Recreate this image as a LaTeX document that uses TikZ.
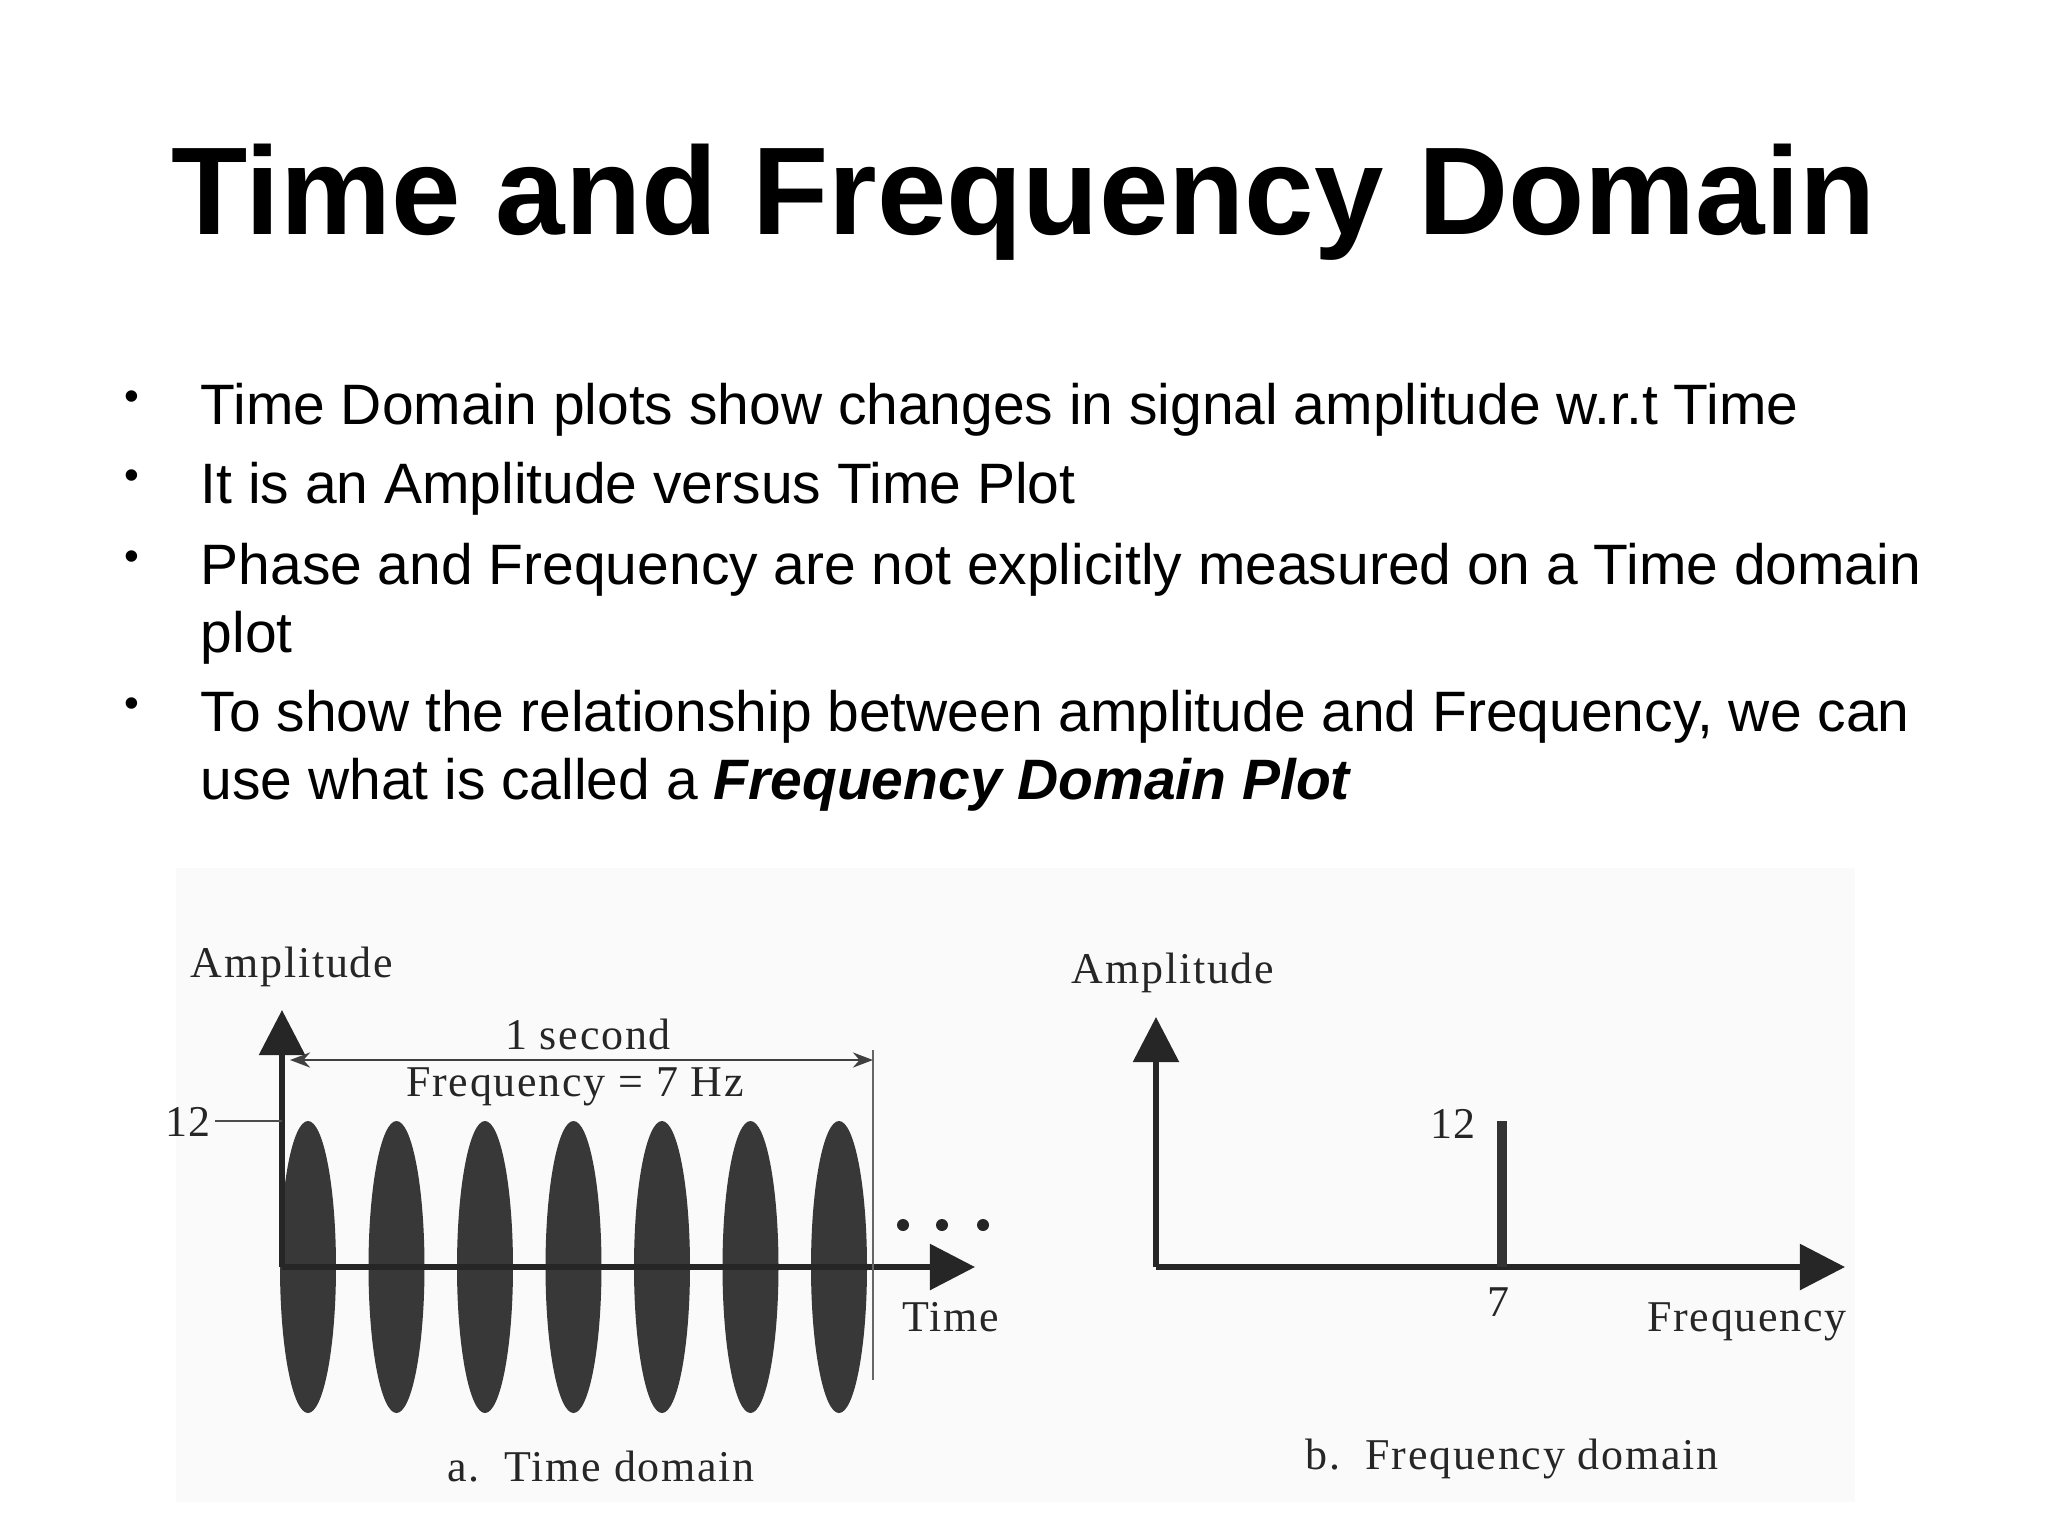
\documentclass[tikz,border=0pt]{standalone}
\usepackage{fontspec}
\setmainfont{Liberation Sans}
\newfontfamily\figfont[LetterSpace=4]{Liberation Serif}
\usetikzlibrary{arrows.meta}
\begin{document}
\begin{tikzpicture}[x=0.01cm,y=-0.01cm,
  bul/.style={anchor=base west,inner sep=0,font=\fontsize{16.2}{19}\selectfont},
  dot/.style={anchor=base west,inner sep=0,font=\fontsize{12}{14}\selectfont},
  lab/.style={inner sep=0,font=\figfont\fontsize{12.5}{14}\selectfont,text=black!85},
  ax/.style={line width=1.6pt,black!85,-{Triangle[length=0.45cm,width=0.45cm]}},
  lobe/.style={fill=black!78}]
\useasboundingbox (0,0) rectangle (2048,1536);
\fill[black!2] (176,868) rectangle (1855,1502);
\node[inner sep=0,font=\bfseries\fontsize{35.5}{40}\selectfont] (title) at (1024,202) {Time and Frequency Domain};
\foreach \y/\n in {410/b1,489/b2,570/b3,717/b4}{\node[dot] (\n) at (124,\y) {•};}
\node[bul] (t1) at (200,424) {Time Domain plots show changes in signal amplitude w.r.t Time};
\node[bul] (t2) at (200,503) {It is an Amplitude versus Time Plot};
\node[bul] (t3) at (200,584) {Phase and Frequency are not explicitly measured on a Time domain};
\node[bul] (t3b) at (200,652) {plot};
\node[bul] (t4) at (200,731) {To show the relationship between amplitude and Frequency, we can};
\node[bul] (t4b) at (200,799) {use what is called a \textbf{\itshape Frequency Domain Plot}};
% left plot
\foreach \i in {0,...,6}{\fill[lobe] ({308+88.5*\i},1267) ellipse [x radius=28, y radius=146];}
\coordinate (o1) at (282,1267);
\coordinate (yt1) at (282,1010);
\coordinate (xt1) at (975,1267);
\draw[ax] (o1) -- (yt1);
\draw[ax] (o1) -- (xt1);
\coordinate (tk1) at (215,1121); \coordinate (tk2) at (282,1121);
\draw[black!70,line width=0.6pt] (tk1) -- (tk2);
\coordinate (vl1) at (873,1050); \coordinate (vl2) at (873,1380);
\draw[black!60,line width=0.6pt] (vl1) -- (vl2);
\coordinate (sa) at (290,1060); \coordinate (sb) at (873,1060);
\draw[black!75,line width=0.8pt,{Stealth[length=0.2cm]}-{Stealth[length=0.2cm]}] (sa) -- (sb);
\node[lab] (l12) at (188,1122) {12};
\node[lab] (amp1) at (292,967) {Amplitude};
\node[lab] (sec) at (588,1034) {1 second};
\node[lab] (freq) at (575,1087) {Frequency = 7 Hz};
\foreach \x/\n in {903/d1,942/d2,983/d3}{\fill[black!85] (\x,1225) circle (6);}
\node[lab] (time) at (951,1317) {Time};
\node[lab] (capa) at (601,1467) {a.\ \ Time domain};
% right plot
\coordinate (o2) at (1156,1267);
\coordinate (yt2) at (1156,1017);
\coordinate (xt2) at (1845,1267);
\draw[ax] (o2) -- (yt2);
\draw[ax] (o2) -- (xt2);
\coordinate (sp1) at (1502,1121); \coordinate (sp2) at (1502,1267);
\draw[black!80,line width=2.6pt] (sp1) -- (sp2);
\node[lab] (amp2) at (1173,973) {Amplitude};
\node[lab] (r12) at (1453,1124) {12};
\node[lab] (r7) at (1498,1302) {7};
\node[lab] (rf) at (1747,1322) {Frequency};
\node[lab] (capb) at (1512,1459) {b.\ \ Frequency domain};
\end{tikzpicture}
\end{document}
